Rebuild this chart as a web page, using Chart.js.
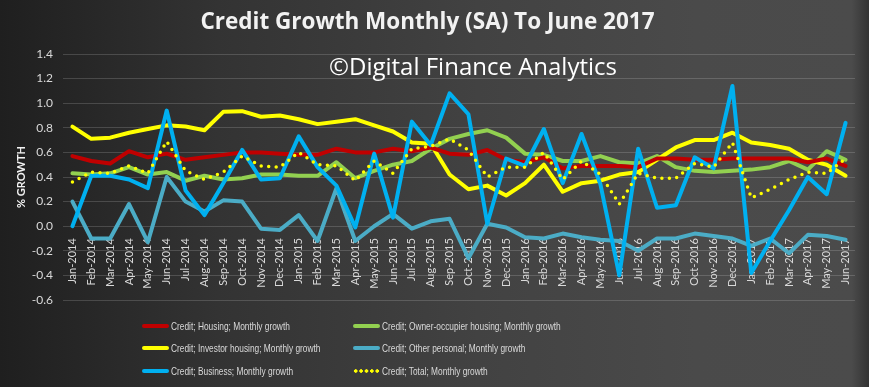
<!DOCTYPE html>
<html>
<head>
<meta charset="utf-8">
<script src="https://cdn.jsdelivr.net/npm/chart.js@4.4.1/dist/chart.umd.min.js"></script>
<style>
  html, body { margin: 0; padding: 0; }
  body { width: 869px; height: 387px; overflow: hidden; }
  #wrap {
    position: relative; width: 869px; height: 387px;
    background: linear-gradient(to right, #1f1f1f 0%, #333 25%, #424242 55%, #4a4a4a 80%, #4b4b4b 98%, #333 100%);
  }
  #grafico { position: absolute; left: 0; top: 0; }
  .leg { position: absolute; display: flex; align-items: center; height: 14px;
         font-family: "Liberation Sans", Arial, sans-serif; font-size: 10.2px; color: #d9d9d9; white-space: nowrap; }
  .leg .sw { width: 27px; height: 4px; border-radius: 2px; margin-right: 2px; }
  .leg span { display: inline-block; transform: scaleX(0.82); transform-origin: left center; }
</style>
</head>
<body>
<div id="wrap">
  <canvas id="grafico" width="869" height="387"></canvas>
  <div id="legenda"></div>
</div>
<script>
// categorias
const meses = ["Jan-2014","Feb-2014","Mar-2014","Apr-2014","May-2014","Jun-2014","Jul-2014","Aug-2014","Sep-2014","Oct-2014","Nov-2014","Dec-2014",
  "Jan-2015","Feb-2015","Mar-2015","Apr-2015","May-2015","Jun-2015","Jul-2015","Aug-2015","Sep-2015","Oct-2015","Nov-2015","Dec-2015",
  "Jan-2016","Feb-2016","Mar-2016","Apr-2016","May-2016","Jun-2016","Jul-2016","Aug-2016","Sep-2016","Oct-2016","Nov-2016","Dec-2016",
  "Jan-2017","Feb-2017","Mar-2017","Apr-2017","May-2017","Jun-2017"];

// series (% growth, monthly)
const housing = [0.57,0.53,0.51,0.61,0.56,0.59,0.54,0.56,0.58,0.60,0.60,0.59,
  0.58,0.58,0.63,0.60,0.60,0.63,0.61,0.64,0.59,0.58,0.62,0.54,
  0.52,0.56,0.47,0.49,0.49,0.49,0.48,0.55,0.55,0.54,0.54,0.55,
  0.55,0.55,0.55,0.52,0.55,0.49];
const ownerOcc = [0.43,0.42,0.43,0.48,0.42,0.44,0.37,0.41,0.38,0.39,0.42,0.42,
  0.41,0.41,0.52,0.39,0.45,0.50,0.53,0.63,0.71,0.75,0.78,0.72,
  0.59,0.58,0.53,0.53,0.57,0.52,0.51,0.57,0.48,0.45,0.44,0.45,
  0.46,0.48,0.53,0.46,0.61,0.54];
const investor = [0.81,0.71,0.72,0.76,0.79,0.82,0.81,0.78,0.93,0.935,0.89,0.90,
  0.87,0.83,0.85,0.87,0.82,0.77,0.68,0.67,0.42,0.30,0.33,0.25,
  0.35,0.50,0.28,0.35,0.37,0.42,0.44,0.54,0.64,0.70,0.70,0.76,
  0.68,0.66,0.63,0.54,0.50,0.41];
const otherPersonal = [0.20,-0.10,-0.10,0.18,-0.13,0.40,0.20,0.12,0.21,0.20,-0.02,-0.03,
  0.09,-0.12,0.31,-0.12,0.00,0.10,-0.02,0.04,0.06,-0.26,0.02,-0.01,
  -0.09,-0.10,-0.06,-0.09,-0.11,-0.12,-0.20,-0.10,-0.10,-0.06,-0.08,-0.10,
  -0.16,-0.10,-0.22,-0.07,-0.08,-0.11];
const business = [0.00,0.41,0.41,0.38,0.31,0.94,0.29,0.09,0.35,0.62,0.38,0.39,
  0.73,0.48,0.33,-0.01,0.59,0.07,0.85,0.66,1.08,0.91,0.02,0.55,
  0.49,0.79,0.35,0.75,0.34,-0.40,0.63,0.15,0.17,0.56,0.47,1.14,
  -0.38,-0.12,0.13,0.40,0.26,0.84];
const total = [0.36,0.44,0.43,0.49,0.43,0.69,0.45,0.38,0.44,0.57,0.49,0.48,
  0.60,0.50,0.49,0.37,0.53,0.43,0.63,0.65,0.71,0.62,0.40,0.48,
  0.48,0.60,0.38,0.53,0.42,0.18,0.43,0.39,0.39,0.51,0.48,0.68,
  0.23,0.30,0.38,0.44,0.43,0.55];

const yTicks = [-0.6,-0.4,-0.2,0.0,0.2,0.4,0.6,0.8,1.0,1.2,1.4];

const corTexto = '#d9d9d9';

function serie(label, data, cor, ordem, tracejado) {
  return {
    label: label, data: data, borderColor: cor, backgroundColor: cor,
    borderWidth: tracejado ? 3.5 : 4, pointRadius: 0, tension: 0, order: ordem,
    borderDash: tracejado ? [0, 7.5] : [], borderCapStyle: 'round', borderJoinStyle: 'round'
  };
}

// marca d'agua
const marca = {
  id: 'marca',
  beforeDatasetsDraw(chart) {
    const c = chart.ctx;
    c.save();
    c.font = '24px "Open Sans"';
    c.fillStyle = '#ffffff';
    c.textAlign = 'center';
    c.textBaseline = 'middle';
    c.fillText('©Digital Finance Analytics', 473, 68);
    c.restore();
  }
};

const grafico = new Chart(document.getElementById('grafico'), {
  type: 'line',
  data: {
    labels: meses,
    datasets: [
      serie('Credit; Housing; Monthly growth', housing, '#c00000', 2),
      serie('Credit; Owner-occupier housing; Monthly growth', ownerOcc, '#92d050', 4),
      serie('Credit; Investor housing; Monthly growth', investor, '#ffff00', 3),
      serie('Credit; Other personal; Monthly growth', otherPersonal, '#4bacc6', 5),
      serie('Credit; Business; Monthly growth', business, '#00b0f0', 1),
      serie('Credit; Total; Monthly growth', total, '#ffff00', 0, true)
    ]
  },
  options: {
    responsive: false,
    animation: false,
    layout: { padding: { left: 0, right: 14, top: 0, bottom: 87 } },
    plugins: {
      legend: { display: false },
      tooltip: { enabled: false },
      title: {
        display: true,
        text: 'Credit Growth Monthly (SA) To June 2017',
        color: '#f2f2f2',
        font: { family: 'Open Sans', size: 22.5, weight: 'bold', lineHeight: 1.2 },
        padding: { top: 9, bottom: 18 }
      }
    },
    scales: {
      x: {
        position: { y: 0 },
        offset: true,
        grid: { display: false },
        border: { display: false },
        ticks: {
          color: corTexto, autoSkip: false, minRotation: 90, maxRotation: 90, padding: 4,
          font: { family: 'Lato', size: 11 }
        }
      },
      y: {
        min: -0.6, max: 1.4,
        afterBuildTicks: s => { s.ticks = yTicks.map(v => ({ value: v })); },
        afterFit: s => { s.width = 63; },
        grid: { color: 'rgba(255,255,255,0.16)', drawTicks: false },
        border: { display: false },
        ticks: {
          color: corTexto, padding: 10,
          font: { family: 'Lato', size: 12 },
          callback: v => v.toFixed(1)
        },
        title: {
          display: true, text: '% GROWTH', color: '#f2f2f2',
          font: { family: 'Lato', size: 11, weight: 'bold' },
          padding: { top: 15, bottom: 0 }
        }
      }
    }
  },
  plugins: [marca]
});

// legenda em duas colunas
const posLegenda = [[142, 326], [353, 326], [142, 348], [353, 348], [142, 371], [353, 371]];
const leg = document.getElementById('legenda');
grafico.data.datasets.forEach((ds, i) => {
  const item = document.createElement('div');
  item.className = 'leg';
  item.style.left = posLegenda[i][0] + 'px';
  item.style.top = (posLegenda[i][1] - 7) + 'px';
  const sw = document.createElement('div');
  sw.className = 'sw';
  if (ds.borderDash.length) {
    sw.style.background = 'radial-gradient(circle, ' + ds.borderColor + ' 1.5px, transparent 2px) 0 0 / 5.4px 4px repeat-x';
  } else {
    sw.style.background = ds.borderColor;
  }
  const txt = document.createElement('span');
  txt.textContent = ds.label;
  item.appendChild(sw);
  item.appendChild(txt);
  leg.appendChild(item);
});
</script>
</body>
</html>
